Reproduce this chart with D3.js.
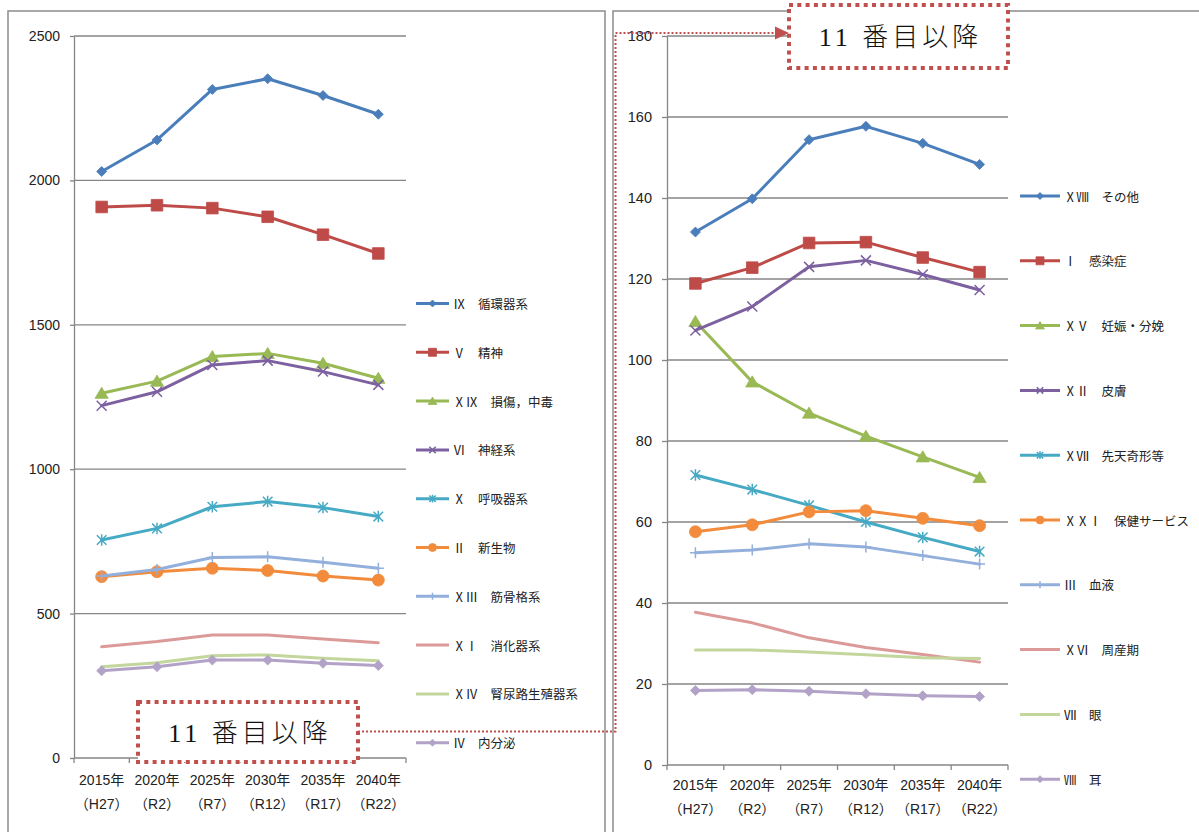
<!DOCTYPE html>
<html><head><meta charset="utf-8">
<script src="https://cdn.jsdelivr.net/npm/d3@7"></script>
<style>body{margin:0;background:#fff}svg{display:block}</style>
</head><body>
<svg id="c" width="1199" height="832"></svg>
<script>
// ---------- data ----------
const years = ["2015年","2020年","2025年","2030年","2035年","2040年"];
const eras  = ["（H27）","（R2）","（R7）","（R12）","（R17）","（R22）"];
const leftTicks  = [0,500,1000,1500,2000,2500];
const rightTicks = [0,20,40,60,80,100,120,140,160,180];

const leftNames = ["Ⅸ　循環器系","Ⅴ　精神","ⅩⅨ　損傷，中毒","Ⅵ　神経系","Ⅹ　呼吸器系","Ⅱ　新生物","ⅩⅢ　筋骨格系","ⅩⅠ　消化器系","ⅩⅣ　腎尿路生殖器系","Ⅳ　内分泌"];
const circulatory  = [2031,2140,2315,2352,2294,2229];
const mental       = [1908,1914,1904,1874,1812,1747];
const injury       = [1263,1305,1390,1401,1367,1315];
const nervous      = [1220,1268,1361,1376,1338,1292];
const respiratory  = [755,795,870,888,867,836];
const neoplasm     = [628,645,657,649,630,616];
const musculo      = [630,653,694,697,678,657];
const digestive    = [385,403,426,426,412,399];
const genitourin   = [316,330,354,357,345,337];
const endocrine    = [302,316,339,339,328,320];

const rightNames = ["ⅩⅧ　その他","Ⅰ　感染症","ⅩⅤ　妊娠・分娩","ⅩⅡ　皮膚","ⅩⅦ　先天奇形等","ⅩⅩⅠ　保健サービス","Ⅲ　血液","ⅩⅥ　周産期","Ⅶ　眼","Ⅷ　耳"];
const other        = [131.6,139.8,154.4,157.7,153.5,148.3];
const infection    = [118.9,122.8,128.9,129.1,125.3,121.7];
const skin         = [107.3,113.2,123.0,124.6,121.1,117.3];
const pregnancy    = [109.5,94.6,86.9,81.2,76.1,71.0];
const congenital   = [71.6,68.0,64.1,60.0,56.2,52.7];
const healthServ   = [57.6,59.3,62.5,62.8,60.9,59.1];
const blood        = [52.4,53.1,54.6,53.8,51.7,49.6];
const perinatal    = [37.7,35.1,31.4,29.0,27.3,25.4];
const eye          = [28.4,28.4,27.9,27.2,26.5,26.3];
const ear          = [18.4,18.6,18.2,17.6,17.1,16.9];

const annotation = "11 番目以降";

// ---------- styles ----------
const palette = ["#4A7EBB","#BE4B48","#98B954","#7D60A0","#46AAC5","#F28B3C","#93AFDB","#DB9A98","#C3D69B","#B3A2C7"];
const markerKinds = ["diamond","square","triangle","times","asterisk","circle","plus",null,null,"diamond"];

const leftSeries = [circulatory,mental,injury,nervous,respiratory,neoplasm,musculo,digestive,genitourin,endocrine]
  .map((v,i)=>({name:leftNames[i],values:v,color:palette[i],marker:markerKinds[i]}));
const rightSeries = [other,infection,pregnancy,skin,congenital,healthServ,blood,perinatal,eye,ear]
  .map((v,i)=>({name:rightNames[i],values:v,color:palette[i],marker:markerKinds[i]}));

// ---------- symbol types (size = half-extent squared) ----------
const symTypes = {
  diamond:{draw(c,s){const r=Math.sqrt(s);c.moveTo(0,-r);c.lineTo(r,0);c.lineTo(0,r);c.lineTo(-r,0);c.closePath();}},
  square:{draw(c,s){const r=Math.sqrt(s);c.rect(-r,-r,2*r,2*r);}},
  triangle:{draw(c,s){const r=Math.sqrt(s);c.moveTo(0,-r);c.lineTo(r*1.1,r*0.85);c.lineTo(-r*1.1,r*0.85);c.closePath();}},
  circle:{draw(c,s){const r=Math.sqrt(s);c.moveTo(r,0);c.arc(0,0,r,0,2*Math.PI);}},
  times:{draw(c,s){const r=Math.sqrt(s);c.moveTo(-r,-r);c.lineTo(r,r);c.moveTo(r,-r);c.lineTo(-r,r);}},
  asterisk:{draw(c,s){const r=Math.sqrt(s);c.moveTo(-r,-r);c.lineTo(r,r);c.moveTo(r,-r);c.lineTo(-r,r);c.moveTo(0,-r*1.2);c.lineTo(0,r*1.2);}},
  plus:{draw(c,s){const r=Math.sqrt(s);c.moveTo(-r,0);c.lineTo(r,0);c.moveTo(0,-r);c.lineTo(0,r);}}
};
const strokeKinds = new Set(["times","asterisk","plus"]);
const chartSize = {diamond:5,square:5.8,triangle:6,circle:6,times:5,asterisk:4.8,plus:5.5};
const legendSize = {diamond:3.5,square:4,triangle:4,circle:4,times:3.2,asterisk:3.2,plus:3.5};

function drawMarker(g, kind, color, r){
  const p = g.append("path").attr("d", d3.symbol().type(symTypes[kind]).size(r*r)());
  if (strokeKinds.has(kind)) p.attr("fill","none").attr("stroke",color).attr("stroke-width",1.5);
  else p.attr("fill",color).attr("stroke",color).attr("stroke-width",0.8);
  return p;
}

const svg = d3.select("#c");
const FONT = "'Liberation Sans','Noto Sans CJK JP',sans-serif";
const JFONT = "'Noto Sans CJK JP',sans-serif";
const GRID = "#868686";

// panel borders
svg.append("rect").attr("x",8).attr("y",11).attr("width",597).attr("height",840)
  .attr("fill","none").attr("stroke","#8c8c8c").attr("stroke-width",1.5);
svg.append("rect").attr("x",613).attr("y",11).attr("width",600).attr("height",840)
  .attr("fill","none").attr("stroke","#8c8c8c").attr("stroke-width",1.5);

function drawChart(cfg){
  const g = svg.append("g");
  const x = d3.scaleBand().domain(years).range([cfg.x0,cfg.x1]);
  const cx = d => x(d)+x.bandwidth()/2;
  const y = d3.scaleLinear().domain([0,d3.max(cfg.ticks)]).range([cfg.yb,cfg.yt]);

  // gridlines
  g.selectAll("line.grid").data(cfg.ticks.filter(t=>t>0)).join("line").attr("class","grid")
    .attr("x1",cfg.x0).attr("x2",cfg.x1).attr("y1",d=>y(d)).attr("y2",d=>y(d))
    .attr("stroke",GRID).attr("stroke-width",1.3);

  // y axis
  const ya = g.append("g").attr("transform",`translate(${cfg.x0},0)`)
    .call(d3.axisLeft(y).tickValues(cfg.ticks).tickFormat(d3.format("d"))
      .tickSizeInner(cfg.tick).tickSizeOuter(0).tickPadding(cfg.pad));
  ya.select(".domain").attr("stroke",GRID).attr("stroke-width",1.3);
  ya.selectAll(".tick line").attr("stroke",GRID).attr("stroke-width",1.3);
  ya.selectAll(".tick text").attr("font-family",FONT).attr("font-size",cfg.yfs).attr("fill","#222");

  // x axis
  const bounds = [cfg.x0, ...years.map(d=>x(d)+x.bandwidth())];
  g.append("line").attr("x1",cfg.x0).attr("x2",cfg.x1).attr("y1",cfg.yb).attr("y2",cfg.yb)
    .attr("stroke",GRID).attr("stroke-width",1.3);
  g.selectAll("line.xt").data(bounds).join("line").attr("class","xt")
    .attr("x1",d=>d).attr("x2",d=>d).attr("y1",cfg.yb).attr("y2",cfg.yb+5)
    .attr("stroke",GRID).attr("stroke-width",1.3);
  g.selectAll("text.xl1").data(years).join("text").attr("class","xl1")
    .attr("x",cx).attr("y",cfg.xl1).attr("text-anchor","middle").attr("dominant-baseline","central")
    .attr("font-family",FONT).attr("font-size",14).attr("fill","#222").text(d=>d);
  g.selectAll("text.xl2").data(eras).join("text").attr("class","xl2")
    .attr("x",(d,i)=>cx(years[i])).attr("y",cfg.xl2).attr("text-anchor","middle").attr("dominant-baseline","central")
    .attr("font-family",FONT).attr("font-size",14).attr("fill","#222").text(d=>d);

  // series
  const line = d3.line().x((d,i)=>cx(years[i])).y(d=>y(d));
  cfg.series.forEach(s=>{
    g.append("path").attr("d",line(s.values)).attr("fill","none").attr("stroke",s.color)
      .attr("stroke-width",3).attr("stroke-linejoin","round").attr("stroke-linecap","round");
    if (s.marker){
      s.values.forEach((v,i)=>{
        const mg = g.append("g").attr("transform",`translate(${cx(years[i])},${y(v)})`);
        drawMarker(mg, s.marker, s.color, chartSize[s.marker]);
      });
    }
  });

  // legend
  cfg.series.forEach((s,i)=>{
    const ly = cfg.ly0 + i*cfg.lstep;
    const lg = g.append("g").attr("transform",`translate(${cfg.lx},${ly})`);
    lg.append("line").attr("x1",0).attr("x2",cfg.llen).attr("y1",0).attr("y2",0)
      .attr("stroke",s.color).attr("stroke-width",3);
    if (s.marker){
      const mg = lg.append("g").attr("transform",`translate(${cfg.llen/2},0)`);
      drawMarker(mg, s.marker, s.color, legendSize[s.marker]);
    }
    lg.append("text").attr("x",cfg.llen+4).attr("y",0).attr("dominant-baseline","central")
      .attr("font-family",JFONT).attr("font-size",12.5).attr("fill","#222").text(s.name);
  });
}

drawChart({series:leftSeries, ticks:leftTicks, x0:74, x1:406, yb:758, yt:36, tick:4, pad:10, yfs:14,
  xl1:780, xl2:804, lx:416, llen:33, ly0:303.5, lstep:48.8});
drawChart({series:rightSeries, ticks:rightTicks, x0:667, x1:1008, yb:765, yt:36, tick:5, pad:10, yfs:14.5,
  xl1:785, xl2:809, lx:1020, llen:40, ly0:196, lstep:64.8});

// ---------- annotations ----------
const RED = "#C0504D";
svg.append("path").attr("d","M358,731.5 H615.5 V33 H776").attr("fill","none")
  .attr("stroke",RED).attr("stroke-width",2).attr("stroke-dasharray","2,2");
svg.append("path").attr("d","M775,26.5 L789,33 L775,39.5 Z").attr("fill",RED);

function annoBox(x,y,w,h){
  svg.append("rect").attr("x",x).attr("y",y).attr("width",w).attr("height",h)
    .attr("fill","#fff").attr("stroke",RED).attr("stroke-width",4).attr("stroke-dasharray","4,4.3");
  svg.append("text").attr("x",x+w/2+2).attr("y",y+h/2+1).attr("text-anchor","middle").attr("dominant-baseline","central")
    .attr("font-family","'Liberation Serif','Noto Sans CJK JP',serif").attr("font-size",26).attr("font-weight",300)
    .attr("letter-spacing",4).attr("fill","#111").text(annotation);
}
annoBox(138,702,220,60);
annoBox(789,5,219,63);
</script>
</body></html>
